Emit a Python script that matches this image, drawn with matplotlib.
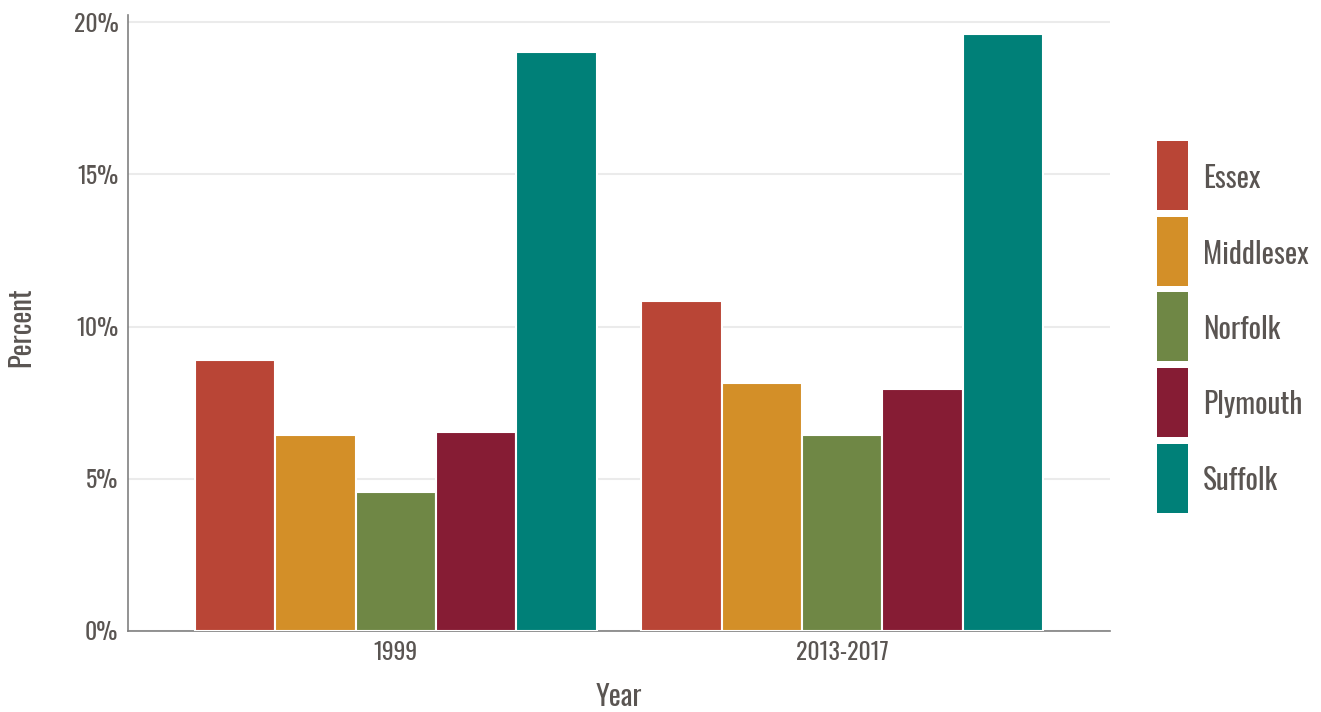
import matplotlib
matplotlib.use("Agg")
import matplotlib.pyplot as plt
from matplotlib import font_manager as fm
from matplotlib.patches import Rectangle
import numpy as np

years = ["1999", "2013-2017"]
counties = ["Essex", "Middlesex", "Norfolk", "Plymouth", "Suffolk"]
essex = [8.9, 10.85]
middlesex = [6.45, 8.15]
norfolk = [4.55, 6.45]
plymouth = [6.55, 7.95]
suffolk = [19.0, 19.6]
values = [essex, middlesex, norfolk, plymouth, suffolk]
colors = ["#b94536", "#d38f28", "#6f8745", "#861c34", "#008078"]
yticks = [0, 5, 10, 15, 20]
ytick_labels = ["0%", "5%", "10%", "15%", "20%"]

available = {f.name for f in fm.fontManager.ttflist}
family = "DejaVu Sans"
for cand in ["Oswald", "Pathway Gothic One", "Barlow Condensed", "Archivo Narrow"]:
    if cand in available:
        family = cand
        break
plt.rcParams["font.family"] = [family, "DejaVu Sans"]

W, H = 1321, 712
text_color = "#5a5552"
fig = plt.figure(figsize=(W/100, H/100), dpi=100)
ax = fig.add_axes([128/W, 1-631/H, (1110-128)/W, (631-15)/H])

n = len(counties)
group_w = 0.9
bw = group_w / n
x = np.arange(1, len(years) + 1)
for i, (c, v, col) in enumerate(zip(counties, values, colors)):
    pos = x - group_w/2 + bw*(i + 0.5)
    ax.bar(pos, v, width=bw, color=col, edgecolor="white", linewidth=1.5, label=c, zorder=3)

ax.set_xlim(0.4, 2.6)
ax.set_ylim(0, 20.23)
ax.set_yticks(yticks)
ax.set_yticklabels(ytick_labels)
ax.set_xticks(x)
ax.set_xticklabels(years)
ax.tick_params(length=0, labelsize=17, colors=text_color, pad=7)
ax.grid(axis="y", color="#ebebeb", linewidth=1.5, zorder=0)
ax.set_axisbelow(True)
for s in ["top", "right"]:
    ax.spines[s].set_visible(False)
for s in ["left", "bottom"]:
    ax.spines[s].set_color("#808080")
    ax.spines[s].set_linewidth(1.2)

fig.text(619/W, 1-697/H, "Year", fontsize=20.5, color=text_color, ha="center", va="center")
fig.text(21/W, 1-327/H, "Percent", fontsize=20.5, color=text_color, ha="center", va="center",
         rotation=90)

# legend
tops = [141, 217, 292, 368, 444]
for c, col, t in zip(counties, colors, tops):
    fig.patches.append(Rectangle((1157/W, 1-(t+69)/H), 31/W, 69/H, facecolor=col,
                                 edgecolor="none", transform=fig.transFigure, figure=fig))
    fig.text(1203/W, 1-(t+46.5)/H, c, fontsize=21, color=text_color, ha="left", va="baseline")

fig.savefig("out.png", dpi=100)
